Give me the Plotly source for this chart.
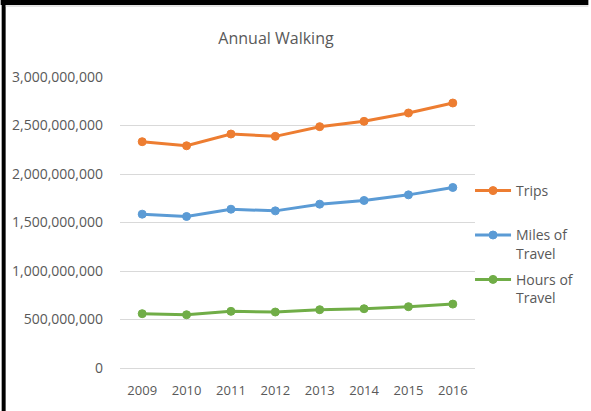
import plotly.graph_objects as go

years = ["2009", "2010", "2011", "2012", "2013", "2014", "2015", "2016"]
trips = [2.333e9, 2.291e9, 2.412e9, 2.388e9, 2.488e9, 2.543e9, 2.629e9, 2.732e9]
miles = [1.586e9, 1.562e9, 1.637e9, 1.620e9, 1.689e9, 1.727e9, 1.785e9, 1.861e9]
hours = [0.560e9, 0.549e9, 0.584e9, 0.577e9, 0.601e9, 0.611e9, 0.632e9, 0.659e9]
y_ticks = [0, 500e6, 1000e6, 1500e6, 2000e6, 2500e6, 3000e6]
y_tick_text = ["0", "500,000,000", "1,000,000,000", "1,500,000,000",
               "2,000,000,000", "2,500,000,000", "3,000,000,000"]

# every legend entry takes two text lines so the entries are evenly spaced
series = [
    ("Trips<br>\u00a0", trips, "#ED7D31"),
    ("Miles of<br>Travel", miles, "#5B9BD5"),
    ("Hours of<br>Travel", hours, "#70AD47"),
]

W, H = 591, 411
ML, MR, MT, MB = 120, 114, 77, 43
PW, PH = W - ML - MR, H - MT - MB


def px_x(px):
    return (px - ML) / PW


def px_y(py):
    return (H - MB - py) / PH


fig = go.Figure()
for i, (name, vals, color) in enumerate(series):
    fig.add_trace(go.Scatter(
        x=years, y=vals, name=name, mode="lines+markers",
        legendgroup=str(i),
        line=dict(color=color, width=3),
        marker=dict(symbol="circle", size=8, color=color,
                    line=dict(color=color, width=1)),
    ))

grey = "#595959"
fig.update_layout(
    width=W, height=H,
    margin=dict(l=ML, r=MR, t=MT, b=MB, pad=0),
    paper_bgcolor="white", plot_bgcolor="white",
    font=dict(family="Open Sans", color=grey),
    title=dict(text="Annual Walking", x=276 / W, xref="container",
               xanchor="center", y=(H - 38) / H, yanchor="middle",
               font=dict(size=16, color=grey)),
    showlegend=True,
    legend=dict(x=px_x(472), y=px_y(175), xanchor="left", yanchor="top",
                font=dict(size=14, color=grey), bgcolor="rgba(0,0,0,0)",
                tracegroupgap=5, valign="top", traceorder="grouped",
                itemwidth=36),
    xaxis=dict(type="category", range=[-0.5, 7.5], showgrid=False,
               showline=True, linecolor="#D9D9D9", linewidth=1,
               ticks="", tickfont=dict(size=13, color=grey),
               ticklabelstandoff=10, zeroline=False, fixedrange=True),
    yaxis=dict(range=[0, 3e9], tickvals=y_ticks, ticktext=y_tick_text,
               showgrid=True, gridcolor="#D9D9D9", gridwidth=1,
               zeroline=False, showline=False, ticks="",
               tickfont=dict(size=14, color=grey),
               ticklabelstandoff=16, fixedrange=True),
    shapes=[
        # dark frame edges along the top and left
        dict(type="rect", xref="paper", yref="paper",
             x0=px_x(0), x1=px_x(W), y0=px_y(5), y1=px_y(0),
             fillcolor="black", line=dict(width=0), layer="above"),
        dict(type="rect", xref="paper", yref="paper",
             x0=px_x(1), x1=px_x(5), y0=px_y(H), y1=px_y(0),
             fillcolor="black", line=dict(width=0), layer="above"),
        dict(type="line", xref="paper", yref="paper",
             x0=px_x(5), x1=px_x(W), y0=px_y(6), y1=px_y(6),
             line=dict(color="#C8C8C8", width=1), layer="above"),
    ],
)

fig.write_html("out.html")
